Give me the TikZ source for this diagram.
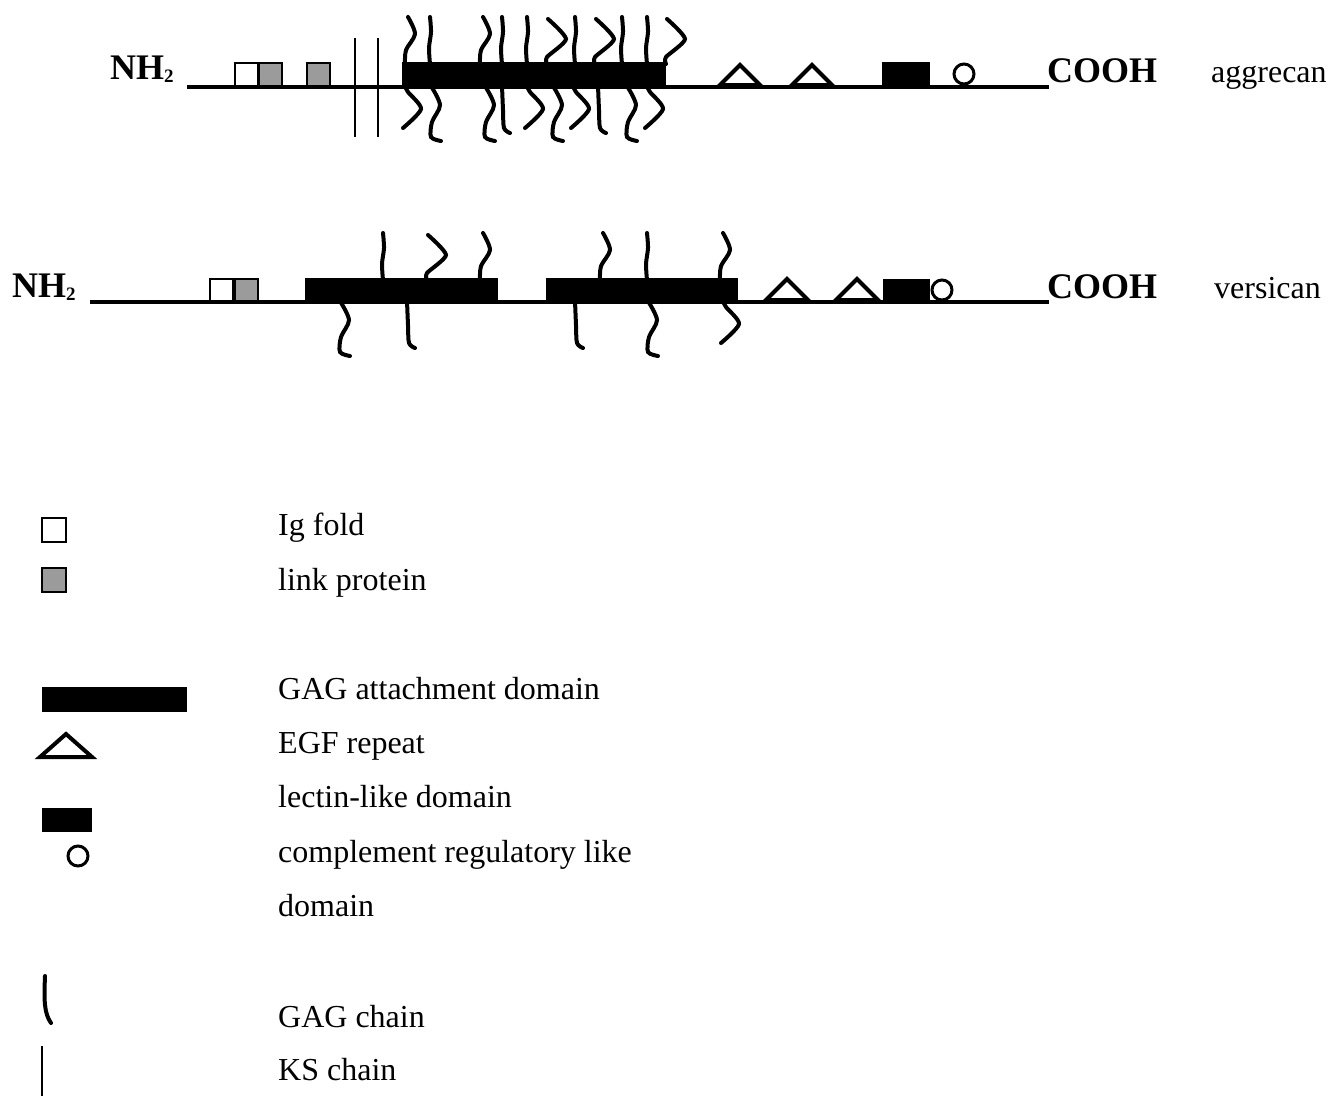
\documentclass[tikz,border=0pt]{standalone}
\usepackage{fontspec}
\setmainfont{Liberation Serif}
\usetikzlibrary{positioning}
\definecolor{linkgray}{RGB}{155,155,155}
\newcommand{\subtwo}{\raisebox{-3pt}{\fontsize{19}{19}\selectfont 2}}
\tikzset{
  backbone/.style={line width=4pt},
  igbox/.style={draw, line width=2pt, fill=white},
  linkbox/.style={draw, line width=2pt, fill=linkgray},
  gagblock/.style={fill=black},
  egf/.style={line width=4pt, line join=miter},
  crp/.style={line width=3pt, fill=white},
  kschain/.style={line width=1.5pt},
  gag/.style={line width=4pt, line cap=round},
  terminus/.style={font=\fontsize{36}{40}\selectfont\bfseries, inner sep=0pt, anchor=base west},
  pglabel/.style={font=\fontsize{32}{36}\selectfont, inner sep=0pt, anchor=base west},
  legendtext/.style={font=\fontsize{32}{36}\selectfont, inner sep=0pt, anchor=base west},
  % chains pointing up
  pics/gagstraight/.style={code={\draw[gag] plot[smooth] coordinates {(0,0) (-1,-16) (1,-32) (0,-47)};}},
  pics/gagwave/.style={code={\draw[gag] plot[smooth] coordinates {(0,0) (1,-14) (10,-30) (3,-47)};}},
  pics/gaghook/.style={code={\draw[gag] plot[smooth, tension=0.4] coordinates {(0,0) (0,-7) (19,-25) (1,-45)};}},
  % chains pointing down
  pics/gagdrop/.style={code={\draw[gag] plot[smooth] coordinates {(0,0) (1,24) (2,42) (8,47)};}},
  pics/gagtail/.style={code={\draw[gag] plot[smooth] coordinates {(0,0) (9,19) (1,36) (0,51) (10,55)};}},
  pics/gagcurl/.style={code={\draw[gag] plot[smooth, tension=0.45] coordinates {(0,0) (3,6) (16,23) (-2,42)};}}
}
\begin{document}
\begin{tikzpicture}[x=1pt,y=-1pt]
  \useasboundingbox (0,0) rectangle (1330,1096);

  % aggrecan
  \coordinate (agg-n) at (187,87);
  \coordinate (agg-c) at (1049,87);
  \node[terminus] (nh2-agg) at (110,79) {NH\subtwo};
  \node[terminus] (cooh-agg) at (1047,82) {COOH};
  \node[pglabel] (name-agg) at (1211,82) {aggrecan};
  \draw[backbone] (agg-n) -- (agg-c);
  \draw[igbox] (235,63) rectangle (258,86);
  \draw[linkbox] (259,63) rectangle (282,86);
  \draw[linkbox] (307,63) rectangle (330,86);
  \draw[kschain] (355,38) -- (355,137);
  \draw[kschain] (378,38) -- (378,137);
  \path (405,64) pic{gagwave} (430,64) pic{gagstraight} (480,64) pic{gagwave}
        (502,64) pic{gagstraight} (527,64) pic{gagstraight} (547,64) pic{gaghook}
        (575,64) pic{gagstraight} (595,64) pic{gaghook} (622,64) pic{gagstraight}
        (647,64) pic{gagstraight} (666,64) pic{gaghook};
  \path (405,86) pic{gagcurl} (431,86) pic{gagtail} (485,86) pic{gagtail}
        (502,86) pic{gagdrop} (527,86) pic{gagcurl} (553,86) pic{gagtail}
        (573,86) pic{gagcurl} (598,86) pic{gagdrop} (627,86) pic{gagtail}
        (647,86) pic{gagcurl};
  \fill[gagblock] (402,62) rectangle (666,88);
  \draw[egf] (720,85) -- (740,65) -- (760,85) -- cycle;
  \draw[egf] (792,85) -- (812,65) -- (832,85) -- cycle;
  \fill (882,62) rectangle (930,87);
  \draw[crp] (964,74) circle (10);

  % versican
  \coordinate (ver-n) at (90,302);
  \coordinate (ver-c) at (1049,302);
  \node[terminus] (nh2-ver) at (12,297) {NH\subtwo};
  \node[terminus] (cooh-ver) at (1047,298) {COOH};
  \node[pglabel] (name-ver) at (1214,298) {versican};
  \draw[backbone] (ver-n) -- (ver-c);
  \draw[igbox] (210,279) rectangle (233,301);
  \draw[linkbox] (235,279) rectangle (258,301);
  \path (383,280) pic{gagstraight} (427,280) pic{gaghook} (480,280) pic{gagwave}
        (600,280) pic{gagwave} (647,280) pic{gagstraight} (720,280) pic{gagwave};
  \path (340,301) pic{gagtail} (407,301) pic{gagdrop} (575,301) pic{gagdrop}
        (648,301) pic{gagtail} (723,301) pic{gagcurl};
  \fill[gagblock] (305,278) rectangle (498,303);
  \fill[gagblock] (546,278) rectangle (738,303);
  \draw[egf] (766,300) -- (787,279) -- (808,300) -- cycle;
  \draw[egf] (836,300) -- (857,279) -- (878,300) -- cycle;
  \fill (883,279) rectangle (930,302);
  \draw[crp] (942,290) circle (10);

  % legend
  \draw[igbox] (42,518) rectangle (66,542);
  \draw[linkbox] (42,568) rectangle (66,592);
  \fill (42,687) rectangle (187,712);
  \draw[egf] (40,757) -- (66,734) -- (92,757) -- cycle;
  \fill (42,808) rectangle (92,832);
  \draw[crp] (78,856) circle (10);
  \draw[gag] (45,976) .. controls (44,1000) and (44,1013) .. (51,1023);
  \draw[kschain] (42,1046) -- (42,1096);
  \node[legendtext] (ig) at (278,535) {Ig fold};
  \node[legendtext] (link) at (278,590) {link protein};
  \node[legendtext] (gagdom) at (278,699) {GAG attachment domain};
  \node[legendtext] (egfrep) at (278,753) {EGF repeat};
  \node[legendtext] (lectin) at (278,807) {lectin-like domain};
  \node[legendtext] (compl) at (278,862) {complement regulatory like};
  \node[legendtext] (compl2) at (278,916) {domain};
  \node[legendtext] (gagch) at (278,1027) {GAG chain};
  \node[legendtext] (ksch) at (278,1080) {KS chain};
\end{tikzpicture}
\end{document}
